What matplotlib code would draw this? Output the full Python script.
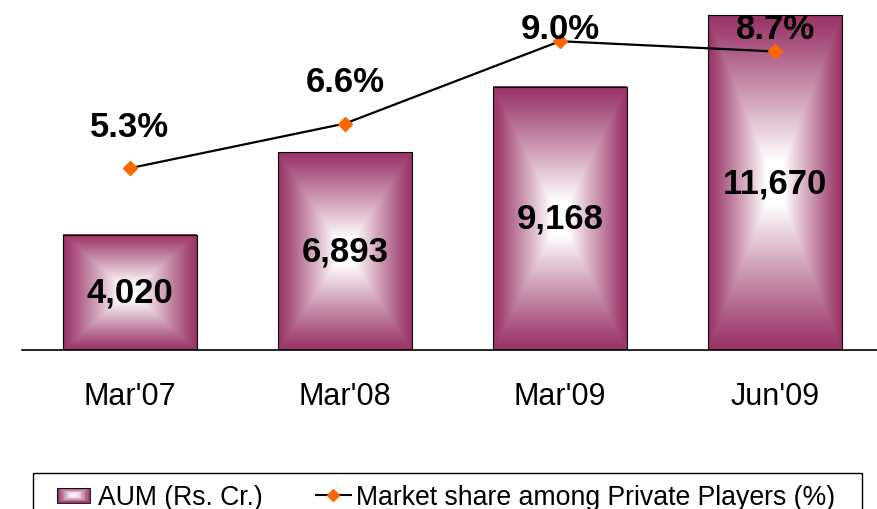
import numpy as np
import matplotlib
matplotlib.use("Agg")
import matplotlib.pyplot as plt
from matplotlib.patches import Rectangle
from matplotlib.legend_handler import HandlerBase
from matplotlib.lines import Line2D
from matplotlib.colors import to_rgb

# data
periods = ["Mar'07", "Mar'08", "Mar'09", "Jun'09"]
aum = [4020, 6893, 9168, 11670]
share = [5.3, 6.6, 9.0, 8.7]
aum_labels = ["4,020", "6,893", "9,168", "11,670"]
share_labels = ["5.3%", "6.6%", "9.0%", "8.7%"]

plt.rcParams['font.family'] = ['Liberation Sans', 'DejaVu Sans']

edge = np.array(to_rgb("#993366"))
white = np.ones(3)


def box_gradient(nx=200, ny=200):
    gx = np.linspace(-1, 1, nx)
    gy = np.linspace(-1, 1, ny)
    X, Y = np.meshgrid(gx, gy)
    t = np.maximum(np.abs(X), np.abs(Y))
    w = np.clip(1.15 * (1 - t), 0, 1) ** 1.1
    return edge[None, None, :] * (1 - w[..., None]) + white[None, None, :] * w[..., None]


class GradientHandler(HandlerBase):
    # small rectangle with a centre-out gradient, like the bars
    def create_artists(self, legend, orig_handle, xdescent, ydescent,
                       width, height, fontsize, trans):
        pw = width * 0.95
        ph = 10.8
        x0 = -xdescent
        y0 = -ydescent + (height - ph) / 2
        arts = []
        n = 10
        for i in range(n):
            f = i / n
            c = edge * (1 - f) + white * f
            sw = pw * (1 - f * 0.8)
            sh = ph * (1 - f * 0.8)
            arts.append(Rectangle((x0 + (pw - sw) / 2, y0 + (ph - sh) / 2), sw, sh,
                                  facecolor=c, edgecolor='none', transform=trans))
        arts.append(Rectangle((x0, y0), pw, ph, facecolor='none', edgecolor='black',
                              linewidth=0.6, transform=trans))
        return arts


fig = plt.figure(figsize=(8.78, 5.10), dpi=100)
ax = fig.add_axes([22 / 878, 1 - 351 / 510, 856 / 878, 351 / 510])
x = np.arange(len(periods))

bars = ax.bar(x, aum, width=0.623, facecolor='none', edgecolor='black',
              linewidth=0.8, zorder=3)
grad = box_gradient()
for b in bars:
    ax.imshow(grad, extent=(b.get_x(), b.get_x() + b.get_width(), 0, b.get_height()),
              aspect='auto', zorder=2, interpolation='bilinear')
for xi, v, lab in zip(x, aum, aum_labels):
    ax.text(xi, v / 2, lab, ha='center', va='center', fontsize=25,
            fontweight='bold', zorder=6)

ax.set_xlim(-0.502, 3.479)
ax.set_ylim(0, 12230)
ax.set_xticks(x)
ax.set_xticklabels(periods, fontsize=22)
ax.tick_params(axis='x', length=0, pad=22)
ax.set_yticks([])
for s in ['top', 'left', 'right']:
    ax.spines[s].set_visible(False)
ax.spines['bottom'].set_linewidth(1.2)
ax.spines['bottom'].set_zorder(5)

ax2 = ax.twinx()
ax2.set_ylim(0, 10.23)
ax2.plot(x, share, color='black', linewidth=1.6, marker='D', markersize=7,
         markerfacecolor='#FF6600', markeredgecolor='#FF6600', zorder=4)
ax2.set_yticks([])
for s in ax2.spines.values():
    s.set_visible(False)
for xi, v, lab in zip(x, share, share_labels):
    ax2.text(xi, min(v + 1.22, 9.36), lab, ha='center', va='center',
             fontsize=25, fontweight='bold', zorder=6)

# legend box (runs off the bottom edge, as in the source)
fig.patches.append(Rectangle((33 / 878, -0.1), 829 / 878, 0.1 + 36 / 510,
                             transform=fig.transFigure, facecolor='none',
                             edgecolor='black', linewidth=1.0))
handles = [Rectangle((0, 0), 1, 1),
           Line2D([], [], color='black', linewidth=1.5, marker='D', markersize=6,
                  markerfacecolor='#FF6600', markeredgecolor='#FF6600')]
fig.legend(handles, ['AUM (Rs. Cr.)', 'Market share among Private Players (%)'],
           handler_map={Rectangle: GradientHandler()},
           loc='upper left', bbox_to_anchor=(44 / 878, 1 - 472 / 510),
           ncol=2, frameon=False, fontsize=19.2, handlelength=1.3,
           handletextpad=0.22, columnspacing=2.0, borderpad=0.0)

fig.savefig('out.png', dpi=100)
